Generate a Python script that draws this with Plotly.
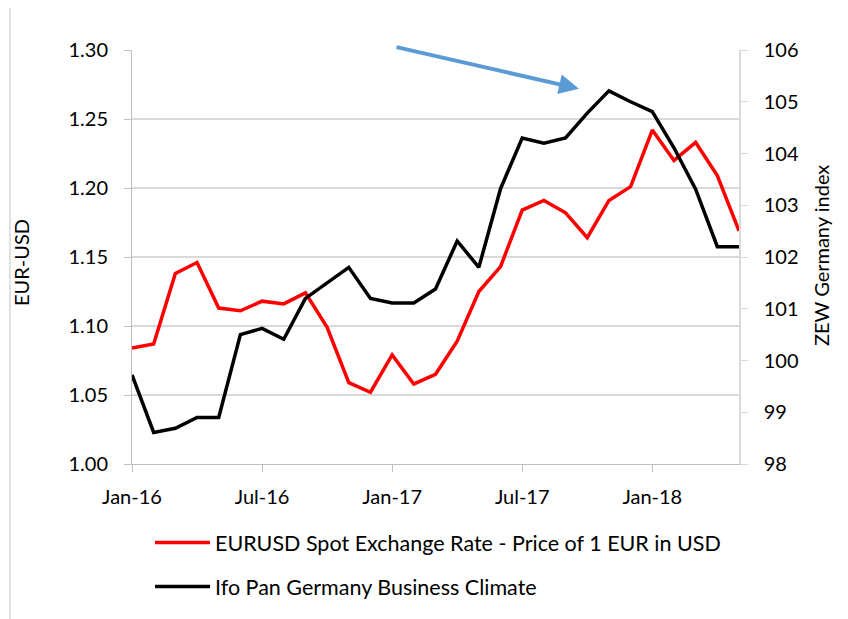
import plotly.graph_objects as go

months = ["Jan-16", "Feb-16", "Mar-16", "Apr-16", "May-16", "Jun-16", "Jul-16", "Aug-16",
          "Sep-16", "Oct-16", "Nov-16", "Dec-16", "Jan-17", "Feb-17", "Mar-17", "Apr-17",
          "May-17", "Jun-17", "Jul-17", "Aug-17", "Sep-17", "Oct-17", "Nov-17", "Dec-17",
          "Jan-18", "Feb-18", "Mar-18", "Apr-18", "May-18"]

eurusd = [1.084, 1.087, 1.138, 1.146, 1.113, 1.111, 1.118, 1.116, 1.124, 1.099, 1.059, 1.052,
          1.079, 1.058, 1.065, 1.089, 1.125, 1.143, 1.184, 1.191, 1.182, 1.164, 1.191, 1.201,
          1.242, 1.220, 1.233, 1.209, 1.169]

ifo = [99.72, 98.61, 98.69, 98.90, 98.90, 100.50, 100.62, 100.41, 101.20, 101.51, 101.80, 101.20,
       101.11, 101.11, 101.38, 102.31, 101.80, 103.32, 104.30, 104.20, 104.30, 104.78, 105.21, 105.00,
       104.81, 104.11, 103.31, 102.20, 102.20]

x_ticks = ["Jan-16", "Jul-16", "Jan-17", "Jul-17", "Jan-18"]
left_ticks = [1.00, 1.05, 1.10, 1.15, 1.20, 1.25, 1.30]
right_ticks = [98, 99, 100, 101, 102, 103, 104, 105, 106]

FONT = "Lato, 'Open Sans', sans-serif"

fig = go.Figure()
fig.add_trace(go.Scatter(
    x=months, y=eurusd, mode="lines",
    name="EURUSD Spot Exchange Rate - Price of 1 EUR in USD",
    line=dict(color="#ff0000", width=3.5), legend="legend"))
fig.add_trace(go.Scatter(
    x=months, y=ifo, mode="lines", yaxis="y2",
    name="Ifo Pan Germany Business Climate",
    line=dict(color="#000000", width=3.5), legend="legend2"))

OFF = 8  # page body margin
PL, PR, PT, PB = 132, 739, 50, 466   # plot area in page pixels
W, H = 848 - OFF, 619 - OFF
pw, ph = PR - PL, PB - PT

def px(x):
    return (x - PL) / pw

def py(y):
    return (PB - y) / ph

fig.update_layout(
    width=W, height=H, autosize=False,
    margin=dict(l=PL - OFF, r=W - (PR - OFF), t=PT - OFF, b=H - (PB - OFF), pad=0),
    paper_bgcolor="white", plot_bgcolor="white",
    font=dict(family=FONT, size=20, color="#000000"),
    xaxis=dict(
        type="category", range=[0, len(months) - 1],
        tickmode="array", tickvals=x_ticks, ticktext=x_ticks,
        ticks="outside", ticklen=7, tickcolor="#bfbfbf", tickwidth=1,
        showline=True, linecolor="#bfbfbf", linewidth=1,
        showgrid=False, zeroline=False, ticklabelstandoff=8,
    ),
    yaxis=dict(
        range=[1.00, 1.30], tickmode="array", tickvals=left_ticks,
        ticktext=[f"{v:.2f}" for v in left_ticks],
        ticks="outside", ticklen=7, tickcolor="#bfbfbf", tickwidth=1,
        showline=True, linecolor="#bfbfbf", linewidth=1,
        showgrid=True, gridcolor="#d9d9d9", gridwidth=1.5, zeroline=False,
        ticklabelstandoff=12,
    ),
    yaxis2=dict(
        range=[98, 106], overlaying="y", side="right",
        tickmode="array", tickvals=right_ticks,
        ticks="outside", ticklen=7, tickcolor="#d9d9d9", tickwidth=1,
        showline=True, linecolor="#d9d9d9", linewidth=1.5,
        showgrid=False, zeroline=False, ticklabelstandoff=12,
    ),
    legend=dict(x=px(150), y=py(545), xanchor="left", yanchor="middle",
                bgcolor="rgba(0,0,0,0)", font=dict(size=21.5), itemwidth=55),
    legend2=dict(x=px(150), y=py(589), xanchor="left", yanchor="middle",
                 bgcolor="rgba(0,0,0,0)", font=dict(size=21.5), itemwidth=55),
    showlegend=True,
)

# chart border (partially visible at top/left)
fig.add_shape(type="rect", xref="paper", yref="paper",
              x0=px(10), x1=px(900), y0=py(700), y1=py(4),
              line=dict(color="#d9d9d9", width=1.5), fillcolor="rgba(0,0,0,0)",
              layer="below")

# axis titles
fig.add_annotation(text="EUR-USD", xref="paper", yref="paper", x=px(21), y=py(264),
                   textangle=-90, showarrow=False, xanchor="center", yanchor="middle",
                   font=dict(size=20))
fig.add_annotation(text="ZEW Germany index", xref="paper", yref="paper", x=px(821), y=py(257),
                   textangle=-90, showarrow=False, xanchor="center", yanchor="middle",
                   font=dict(size=20))

# blue arrow
fig.add_annotation(text="", xref="paper", yref="paper", x=px(579), y=py(89),
                   ax=395 - 579, ay=47 - 89, axref="pixel", ayref="pixel",
                   showarrow=True, arrowhead=2, arrowsize=1, arrowwidth=4,
                   arrowcolor="#5b9bd5", standoff=0)

fig.write_html("out.html")
